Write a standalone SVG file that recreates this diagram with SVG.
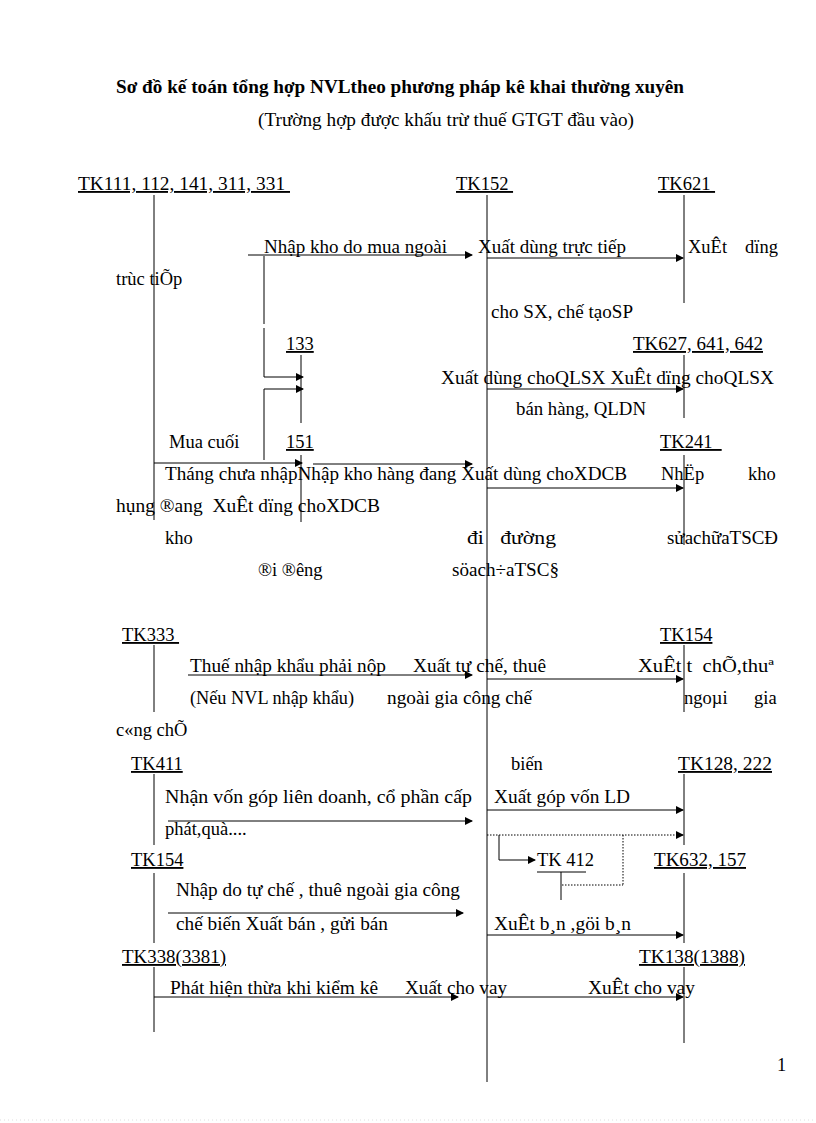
<svg xmlns="http://www.w3.org/2000/svg" width="816" height="1123" viewBox="0 0 816 1123">
<defs>
<marker id="a" markerWidth="8" markerHeight="8" refX="7" refY="4" orient="auto" markerUnits="userSpaceOnUse"><path d="M0,0 L8,4 L0,8 z" fill="#000"/></marker>
<style>
text{font-family:"Liberation Serif","Times New Roman",serif;font-size:18.5px;fill:#000}
.t{font-weight:bold;font-size:18.5px}
.u{text-decoration:underline}
line{stroke:#000;stroke-width:1}
.ar{marker-end:url(#a)}
.d{stroke-dasharray:1.5 1.5}
</style>
</defs>
<rect width="816" height="1123" fill="#fff"/>
<text class="t" x="116" y="93" textLength="568" lengthAdjust="spacingAndGlyphs">Sơ đồ kế toán tổng hợp NVLtheo phương pháp kê khai thường xuyên</text>
<text x="258" y="126" textLength="376" lengthAdjust="spacingAndGlyphs">(Trường hợp được khấu trừ thuế GTGT đầu vào)</text>
<g id="nodes">
<g id="tk111"><text class="u" x="78" y="190" xml:space="preserve" textLength="212" lengthAdjust="spacingAndGlyphs">TK111, 112, 141, 311, 331 </text><line x1="154" y1="195" x2="154" y2="520"/></g>
<g id="tk152"><text class="u" x="456" y="190" xml:space="preserve">TK152 </text><line x1="487" y1="195" x2="487" y2="1082"/></g>
<g id="tk621"><text class="u" x="658" y="190" xml:space="preserve">TK621 </text><line x1="684" y1="195" x2="684" y2="303"/></g>
<g id="tk133"><text class="u" x="286" y="350">133</text><line x1="301" y1="355" x2="301" y2="423"/></g>
<g id="tk627"><text class="u" x="633" y="350" textLength="130" lengthAdjust="spacingAndGlyphs">TK627, 641, 642</text><line x1="684" y1="355" x2="684" y2="418"/></g>
<g id="tk151"><text class="u" x="286" y="448">151</text><line x1="301" y1="455" x2="301" y2="522"/></g>
<g id="tk241"><text class="u" x="660" y="448" xml:space="preserve">TK241  </text><line x1="684" y1="455" x2="684" y2="545"/></g>
<g id="tk333"><text class="u" x="122" y="641" xml:space="preserve">TK333 </text><line x1="154" y1="645" x2="154" y2="712"/></g>
<g id="tk154r"><text class="u" x="660" y="641">TK154</text><line x1="684" y1="645" x2="684" y2="712"/></g>
<g id="tk411"><text class="u" x="131" y="770">TK411</text><line x1="154" y1="774" x2="154" y2="845"/></g>
<g id="tk128"><text class="u" x="678" y="770" textLength="94" lengthAdjust="spacingAndGlyphs">TK128, 222</text><line x1="684" y1="774" x2="684" y2="845"/></g>
<g id="tk412"><text x="537" y="866">TK 412</text><line x1="537" y1="872" x2="586" y2="872"/><line x1="561" y1="872" x2="561" y2="900"/></g>
<g id="tk154l"><text class="u" x="131" y="866">TK154</text><line x1="154" y1="873" x2="154" y2="943"/></g>
<g id="tk632"><text class="u" x="654" y="866" textLength="92" lengthAdjust="spacingAndGlyphs">TK632, 157</text><line x1="684" y1="873" x2="684" y2="943"/></g>
<g id="tk338"><text class="u" x="122" y="963" textLength="104" lengthAdjust="spacingAndGlyphs">TK338(3381)</text><line x1="154" y1="967" x2="154" y2="1032"/></g>
<g id="tk138"><text class="u" x="639" y="963" textLength="106" lengthAdjust="spacingAndGlyphs">TK138(1388)</text><line x1="684" y1="967" x2="684" y2="1043"/></g>
</g>
<g id="connectors">
<line class="ar" x1="248" y1="255" x2="472" y2="255"/>
<line class="ar" x1="487" y1="258" x2="683" y2="258"/>
<line x1="264" y1="256" x2="264" y2="324"/>
<line x1="264" y1="328" x2="264" y2="377"/>
<line class="ar" x1="264" y1="377" x2="303" y2="377"/>
<line x1="264" y1="389" x2="264" y2="460"/>
<line class="ar" x1="264" y1="389" x2="303" y2="389"/>
<line class="ar" x1="487" y1="389" x2="683" y2="389"/>
<line class="ar" x1="154" y1="463" x2="302" y2="463"/>
<line class="ar" x1="313" y1="464" x2="472" y2="464"/>
<line class="ar" x1="487" y1="488" x2="683" y2="488"/>
<line class="ar" x1="188" y1="675" x2="472" y2="675"/>
<line class="ar" x1="487" y1="679" x2="683" y2="679"/>
<line class="ar" x1="487" y1="810" x2="683" y2="810"/>
<line class="ar" x1="168" y1="821" x2="472" y2="821"/>
<line class="ar d" x1="487" y1="835" x2="683" y2="835"/>
<line class="d" x1="623" y1="835" x2="623" y2="885"/>
<line class="d" x1="562" y1="885" x2="623" y2="885"/>
<line x1="499" y1="835" x2="499" y2="860"/>
<line class="ar" x1="499" y1="860" x2="535" y2="860"/>
<line class="ar" x1="168" y1="913" x2="463" y2="913"/>
<line class="ar" x1="487" y1="935" x2="683" y2="935"/>
<line class="ar" x1="154" y1="997" x2="458" y2="997"/>
<line class="ar" x1="487" y1="997" x2="683" y2="997"/>
</g>
<text x="264" y="253" textLength="183" lengthAdjust="spacingAndGlyphs">Nhập kho do mua ngoài</text>
<text x="478" y="253" textLength="148" lengthAdjust="spacingAndGlyphs">Xuất dùng trực tiếp</text>
<text x="688" y="253">XuÊt</text><text x="745" y="253">dïng</text>
<text x="116" y="285">trùc tiÕp</text>
<text x="491" y="318" textLength="142" lengthAdjust="spacingAndGlyphs">cho SX, chế tạoSP</text>
<text x="441" y="384" textLength="333" lengthAdjust="spacingAndGlyphs">Xuất dùng choQLSX XuÊt dïng choQLSX</text>
<text x="516" y="415" textLength="130" lengthAdjust="spacingAndGlyphs">bán hàng, QLDN</text>
<text x="169" y="448">Mua cuối</text>
<text x="165" y="480" textLength="462" lengthAdjust="spacingAndGlyphs">Tháng chưa nhậpNhập kho hàng đang Xuất dùng choXDCB</text>
<text x="661" y="480">NhËp</text><text x="748" y="480">kho</text>
<text x="116" y="512" xml:space="preserve" textLength="264" lengthAdjust="spacingAndGlyphs">hụng ®ang  XuÊt dïng choXDCB</text>
<text x="165" y="544">kho</text>
<text x="467" y="544" xml:space="preserve" textLength="89" lengthAdjust="spacingAndGlyphs">đi   đường</text>
<text x="667" y="544" textLength="111" lengthAdjust="spacingAndGlyphs">sửachữaTSCĐ</text>
<text x="258" y="576">®i ®êng</text>
<text x="452" y="576" textLength="107" lengthAdjust="spacingAndGlyphs">söach÷aTSC§</text>
<text x="190" y="672" textLength="196" lengthAdjust="spacingAndGlyphs">Thuế nhập khẩu phải nộp</text>
<text x="413" y="672" textLength="133" lengthAdjust="spacingAndGlyphs">Xuất tự chế, thuê</text>
<text x="638" y="672" xml:space="preserve" textLength="136" lengthAdjust="spacingAndGlyphs">XuÊt t  chÕ,thuª</text>
<text x="190" y="704" textLength="164" lengthAdjust="spacingAndGlyphs">(Nếu NVL nhập khẩu)</text>
<text x="387" y="704" textLength="145" lengthAdjust="spacingAndGlyphs">ngoài gia công chế</text>
<text x="684" y="704">ngoµi</text><text x="754" y="704">gia</text>
<text x="116" y="736">c«ng chÕ</text>
<text x="511" y="770">biến</text>
<text x="165" y="803" textLength="307" lengthAdjust="spacingAndGlyphs">Nhận vốn góp liên doanh, cổ phần cấp</text>
<text x="494" y="803" textLength="136" lengthAdjust="spacingAndGlyphs">Xuất góp vốn LD</text>
<text x="165" y="835">phát,quà....</text>
<text x="176" y="896" textLength="284" lengthAdjust="spacingAndGlyphs">Nhập do tự chế , thuê ngoài gia công</text>
<text x="176" y="930" textLength="212" lengthAdjust="spacingAndGlyphs">chế biến Xuất bán , gửi bán</text>
<text x="494" y="930" textLength="137" lengthAdjust="spacingAndGlyphs">XuÊt b¸n ,göi b¸n</text>
<text x="170" y="994" textLength="208" lengthAdjust="spacingAndGlyphs">Phát hiện thừa khi kiểm kê</text>
<text x="405" y="994" textLength="102" lengthAdjust="spacingAndGlyphs">Xuất cho vay</text>
<text x="588" y="994" textLength="107" lengthAdjust="spacingAndGlyphs">XuÊt cho vay</text>
<text x="777" y="1071">1</text>
<line x1="0" y1="1120" x2="816" y2="1120" style="stroke:#ddd" stroke-dasharray="1 3"/>
</svg>
